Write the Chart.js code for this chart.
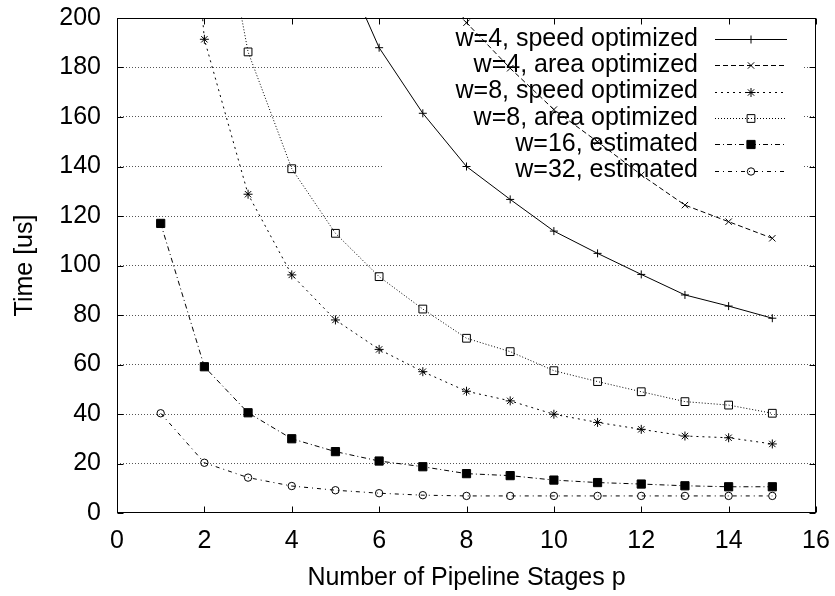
<!DOCTYPE html>
<html>
<head>
<meta charset="utf-8">
<script src="https://cdn.jsdelivr.net/npm/chart.js"></script>
<style>
html,body{margin:0;padding:0;background:#fff;}
#wrap{width:835px;height:596px;position:relative;}
</style>
</head>
<body>
<div id="wrap"><canvas id="c" width="835" height="596"></canvas></div>
<script>
// ---- data ----
const stages = [1,2,3,4,5,6,7,8,9,10,11,12,13,14,15];
const w4Speed = [null,null,null,null,228,188,161.5,140,126.7,113.9,104.9,96.4,88.1,83.6,78.7];
const w4Area  = [null,null,null,null,null,null,226,198.1,179.7,163,150,136.6,124.4,117.7,111.0];
const w8Speed = [400,191.4,128.8,96.2,78,66.1,57.1,49.2,45.3,39.9,36.6,33.8,31.1,30.4,27.9];
const w8Area  = [null,280,186.3,139.1,113,95.5,82.4,70.6,65.2,57.5,53.1,49.0,45.0,43.6,40.3];
const w16Est  = [117,59.1,40.5,30,24.8,21,18.7,15.9,15.1,13.3,12.3,11.7,11.0,10.6,10.6];
const w32Est  = [40.3,20.3,14.3,10.9,9.2,8.0,7.2,6.9,6.9,6.9,6.9,6.9,6.9,6.9,6.9];
const seriesLabels = ['w=4, speed optimized','w=4, area optimized','w=8, speed optimized','w=8, area optimized','w=16, estimated','w=32, estimated'];
const xTickValues = [0,2,4,6,8,10,12,14,16];
const yTickValues = [0,20,40,60,80,100,120,140,160,180,200];

const FONT = '"Liberation Sans", Arial, Helvetica, sans-serif';
const FS = 25;
const toPts = vals => stages.map((p,i)=>({x:p,y:vals[i]}));

function ds(label, vals, dash, style, radius, fill){
  return {
    label, data: toPts(vals),
    borderColor:'#000', borderWidth:1, borderDash:dash,
    pointStyle:style, pointRadius:radius, pointHoverRadius:radius,
    pointBorderColor:'#000', pointBorderWidth:1,
    pointBackgroundColor: fill ? '#000' : 'rgba(0,0,0,0)',
    backgroundColor:'rgba(0,0,0,0)',
    fill:false, tension:0, spanGaps:false, clip:1
  };
}

const datasets = [
  ds(seriesLabels[0], w4Speed, [], 'cross', 4, false),
  ds(seriesLabels[1], w4Area, [5,3], 'crossRot', 4.5, false),
  ds(seriesLabels[2], w8Speed, [2,4], 'star', 4.5, false),
  ds(seriesLabels[3], w8Area, [1,2], 'rect', 5.5, false),
  ds(seriesLabels[4], w16Est, [5,3,1,3], 'rect', 5.8, true),
  ds(seriesLabels[5], w32Est, [4,4,1,4], 'circle', 3.7, false)
];

// legend-region mask (grid is hidden behind the key in the reference)
const keyMask = {
  id:'keyMask',
  beforeDatasetsDraw(chart){
    const ctx = chart.ctx;
    ctx.save();
    ctx.fillStyle = '#fff';
    ctx.fillRect(382, 19, 421, 170);
    ctx.restore();
  }
};

const frameAndKey = {
  id:'frameAndKey',
  afterDraw(chart){
    const ctx = chart.ctx;
    const a = chart.chartArea;
    const xs = chart.scales.x, ys = chart.scales.y;
    ctx.save();
    ctx.strokeStyle = '#000';
    ctx.lineWidth = 1;
    ctx.setLineDash([]);
    const L = Math.round(a.left)+0.5, R = Math.round(a.right)-0.5;
    const T = Math.round(a.top)+0.5, B = Math.round(a.bottom)-0.5;
    ctx.strokeRect(L, T, R-L, B-T);
    const tl = 6;
    ctx.beginPath();
    xTickValues.forEach(v=>{
      const px = Math.round(xs.getPixelForValue(v))+0.5;
      ctx.moveTo(px, B); ctx.lineTo(px, B-tl);
      ctx.moveTo(px, T); ctx.lineTo(px, T+tl);
    });
    yTickValues.forEach(v=>{
      const py = Math.round(ys.getPixelForValue(v))+0.5;
      ctx.moveTo(L, py); ctx.lineTo(L+tl, py);
      ctx.moveTo(R, py); ctx.lineTo(R-tl, py);
    });
    ctx.stroke();

    // key
    const textRight = 698, sx1 = 715, sx2 = 787, mx = 751;
    chart.data.datasets.forEach((d,i)=>{
      const y = 39 + 26.3*i;
      ctx.fillStyle = '#000';
      ctx.font = FS + 'px ' + FONT;
      ctx.textAlign = 'right';
      ctx.textBaseline = 'middle';
      ctx.fillText(d.label, textRight, y);
      const yy = Math.round(y)+0.5;
      ctx.beginPath();
      ctx.setLineDash(d.borderDash);
      ctx.lineWidth = 1;
      ctx.strokeStyle = '#000';
      ctx.moveTo(sx1, yy); ctx.lineTo(sx2, yy);
      ctx.stroke();
      ctx.setLineDash([]);
      ctx.fillStyle = d.pointBackgroundColor;
      ctx.strokeStyle = '#000';
      ctx.lineWidth = 1;
      Chart.helpers.drawPoint(ctx, {pointStyle:d.pointStyle, radius:d.pointRadius, rotation:0, borderWidth:1}, mx, yy);
    });
    ctx.restore();
  }
};

new Chart(document.getElementById('c'), {
  type:'line',
  data:{datasets},
  options:{
    responsive:false,
    animation:false,
    devicePixelRatio:1,
    layout:{padding:{top:18,right:19,left:0,bottom:0}},
    plugins:{legend:{display:false}, tooltip:{enabled:false}},
    scales:{
      x:{
        type:'linear', min:0, max:16,
        afterBuildTicks(s){ s.ticks = xTickValues.map(v=>({value:v})); },
        afterFit(s){ s.height = 83; s.paddingLeft = 0; s.paddingRight = 0; },
        grid:{display:false, drawTicks:false},
        border:{display:false},
        ticks:{color:'#000', padding:13, font:{family:FONT, size:FS}, maxRotation:0, autoSkip:false},
        title:{display:true, text:'Number of Pipeline Stages p', color:'#000',
               font:{family:FONT, size:FS, lineHeight:1.2}, padding:{top:0,bottom:3}}
      },
      y:{
        type:'linear', min:0, max:200,
        afterBuildTicks(s){ s.ticks = yTickValues.map(v=>({value:v})); },
        afterFit(s){ s.width = 117; s.paddingTop = 0; s.paddingBottom = 0; },
        grid:{
          drawTicks:false,
          lineWidth:1,
          color:(c)=> (c.tick && (c.tick.value===0 || c.tick.value===200)) ? 'rgba(0,0,0,0)' : '#555'
        },
        border:{display:false, dash:[1,2]},
        ticks:{color:'#000', padding:16, font:{family:FONT, size:FS}, autoSkip:false},
        title:{display:true, text:'Time [us]', color:'#000',
               font:{family:FONT, size:FS, lineHeight:1.2}, padding:{top:10,bottom:0}}
      }
    }
  },
  plugins:[keyMask, frameAndKey]
});
</script>
</body>
</html>
